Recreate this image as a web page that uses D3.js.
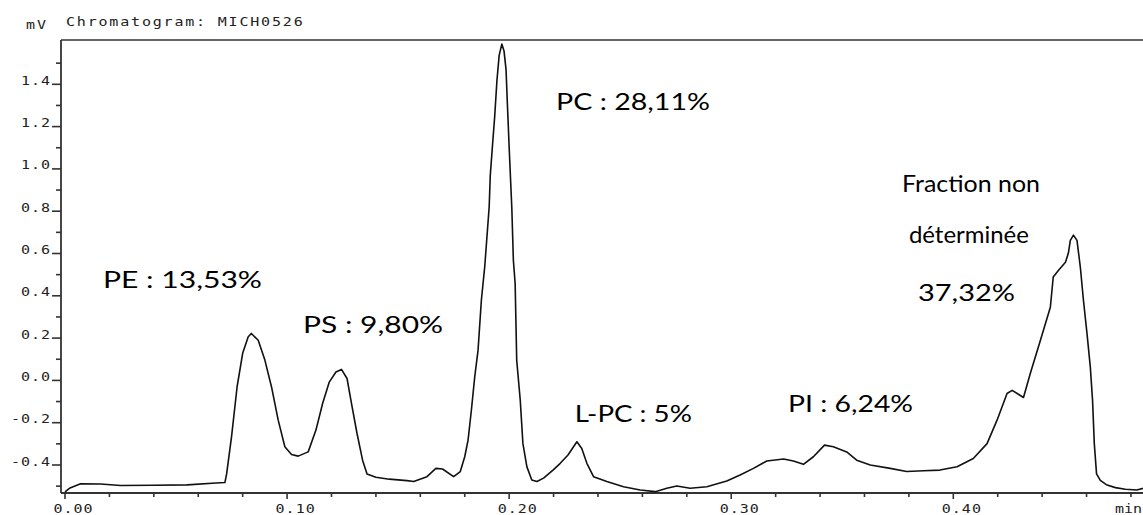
<!DOCTYPE html>
<html>
<head>
<meta charset="utf-8">
<script src="https://cdn.jsdelivr.net/npm/d3@7/dist/d3.min.js"></script>
<style>
  html, body { margin: 0; padding: 0; background: #fff; }
  svg { display: block; }
</style>
</head>
<body>
<svg id="chart" width="1143" height="515"></svg>
<script>
// ---------- DATA ----------
const chartTitle = "Chromatogram: MICH0526";
const yUnit = "mV";
const xUnit = "min";

// retention time (min)
const times = [
  0.000, 0.002, 0.007, 0.016, 0.025, 0.040, 0.055, 0.068, 0.072, 0.0728,
  0.075, 0.0775, 0.080, 0.0825, 0.0839, 0.087, 0.090, 0.093, 0.096, 0.099,
  0.102, 0.105, 0.1095, 0.113, 0.116, 0.119, 0.122, 0.1245, 0.127, 0.129,
  0.1315, 0.134, 0.136, 0.140, 0.146, 0.154, 0.157, 0.163, 0.167, 0.170,
  0.175, 0.178, 0.180, 0.1815, 0.183, 0.1845, 0.186, 0.1875, 0.189, 0.190,
  0.191, 0.1915, 0.1925, 0.1935, 0.1945, 0.1955, 0.1967, 0.1977, 0.1986, 0.1992,
  0.2001, 0.2012, 0.2019, 0.2027, 0.2034, 0.2050, 0.2062, 0.2080, 0.2102, 0.2125,
  0.2155, 0.220, 0.223, 0.2265, 0.2305, 0.2327, 0.235, 0.238, 0.244, 0.2515,
  0.259, 0.2658, 0.271, 0.2755, 0.2815, 0.289, 0.298, 0.304, 0.310, 0.316,
  0.3236, 0.328, 0.3325, 0.337, 0.342, 0.346, 0.352, 0.3565, 0.3626, 0.3716,
  0.379, 0.3866, 0.394, 0.4017, 0.409, 0.4152, 0.4197, 0.4242, 0.4265, 0.4316,
  0.4347, 0.4392, 0.4437, 0.4450, 0.4473, 0.4505, 0.4518, 0.4527, 0.4541, 0.4557,
  0.4572, 0.4586, 0.4602, 0.4617, 0.4627, 0.4635, 0.4645, 0.4662, 0.4689, 0.4730,
  0.4775, 0.4826, 0.4860
];
// detector signal (mV)
const signal = [
  -0.527, -0.510, -0.489, -0.490, -0.497, -0.496, -0.494, -0.485, -0.483, -0.441,
  -0.266, -0.030, 0.128, 0.206, 0.222, 0.190, 0.096, -0.031, -0.188, -0.314,
  -0.350, -0.358, -0.338, -0.235, -0.109, -0.008, 0.040, 0.052, 0.009, -0.109,
  -0.251, -0.377, -0.442, -0.458, -0.467, -0.474, -0.478, -0.455, -0.416, -0.419,
  -0.455, -0.431, -0.361, -0.282, -0.140, 0.017, 0.143, 0.380, 0.537, 0.678,
  0.820, 0.969, 1.111, 1.249, 1.418, 1.537, 1.590, 1.557, 1.469, 1.308,
  1.079, 0.815, 0.568, 0.458, 0.096, -0.094, -0.299, -0.409, -0.471, -0.478,
  -0.462, -0.422, -0.392, -0.353, -0.290, -0.322, -0.392, -0.455, -0.478, -0.503,
  -0.518, -0.526, -0.510, -0.499, -0.510, -0.503, -0.476, -0.447, -0.416, -0.381,
  -0.372, -0.381, -0.397, -0.361, -0.306, -0.314, -0.338, -0.377, -0.400, -0.416,
  -0.431, -0.427, -0.424, -0.408, -0.369, -0.299, -0.188, -0.062, -0.047, -0.081,
  0.034, 0.189, 0.346, 0.489, 0.520, 0.559, 0.601, 0.662, 0.687, 0.662,
  0.536, 0.379, 0.222, 0.063, -0.094, -0.300, -0.442, -0.473, -0.493, -0.507,
  -0.515, -0.518, -0.509
];

// axis ticks
const xMajorTicks = [0.00, 0.10, 0.20, 0.30, 0.40];
const xMajorLabels = ["0.00", "0.10", "0.20", "0.30", "0.40"];
const xMinorTicks = [0.02, 0.04, 0.06, 0.08, 0.12, 0.14, 0.16, 0.18, 0.22, 0.24, 0.26, 0.28,
                     0.32, 0.34, 0.36, 0.38, 0.42, 0.44, 0.46, 0.48];
const xUnitAt = 0.48;
const yMajorTicks = [-0.4, -0.2, 0.0, 0.2, 0.4, 0.6, 0.8, 1.0, 1.2, 1.4];
const yMajorLabels = ["-0.4", "-0.2", "0.0", "0.2", "0.4", "0.6", "0.8", "1.0", "1.2", "1.4"];
const yMinorTicks = [-0.5, -0.3, -0.1, 0.1, 0.3, 0.5, 0.7, 0.9, 1.1, 1.3, 1.5];

// peak annotations (text, anchor time, anchor signal)
const annoText = ["PE : 13,53%", "PS : 9,80%", "PC : 28,11%", "L-PC : 5%", "PI : 6,24%",
                  "Fraction non", "déterminée", "37,32%"];
const annoTime = [0.0171, 0.1072, 0.2211, 0.2296, 0.3256, 0.3769, 0.3800, 0.3841];
const annoSignal = [0.437, 0.226, 1.278, -0.195, -0.148, 0.891, 0.650, 0.375];

// ---------- LAYOUT ----------
const W = 1143, H = 515;
const plotLeft = 61, plotTop = 40, plotBottom = 493;
const annoWidths = [159, 140, 154, 117, 125, 138, 120, 97];

const svg = d3.select("#chart");

const x = d3.scaleLinear().domain([0, 0.40]).range([65, 953.3]);
const y = d3.scaleLinear().domain([-0.4, 1.4]).range([465, 84.3]);

const axisColor = "#333";
const monoFont = "'DejaVu Sans Mono', 'Liberation Mono', monospace";

// helper for the wide bitmap-like instrument font
function monoText(g, px, py, str, anchor, spacing) {
  return g.append("text")
    .attr("transform", `translate(${px},${py}) scale(1.25,1)`)
    .attr("text-anchor", anchor || "start")
    .attr("font-family", monoFont).attr("font-size", 12)
    .attr("letter-spacing", spacing == null ? 0.8 : spacing)
    .attr("fill", "#222")
    .text(str);
}

// frame: top, left, bottom
svg.append("line").attr("x1", plotLeft).attr("x2", W + 5).attr("y1", plotTop).attr("y2", plotTop)
  .attr("stroke", axisColor).attr("stroke-width", 1.6);
svg.append("line").attr("x1", plotLeft).attr("x2", plotLeft).attr("y1", plotTop).attr("y2", plotBottom)
  .attr("stroke", axisColor).attr("stroke-width", 1.8);
svg.append("line").attr("x1", plotLeft).attr("x2", W + 5).attr("y1", plotBottom).attr("y2", plotBottom)
  .attr("stroke", axisColor).attr("stroke-width", 1.8);

// x ticks
const gx = svg.append("g");
gx.selectAll("line.maj").data(xMajorTicks).join("line")
  .attr("x1", d => x(d)).attr("x2", d => x(d))
  .attr("y1", plotBottom).attr("y2", plotBottom + 6)
  .attr("stroke", axisColor).attr("stroke-width", 1.6);
gx.selectAll("line.min").data(xMinorTicks).join("line")
  .attr("x1", d => x(d)).attr("x2", d => x(d))
  .attr("y1", plotBottom).attr("y2", plotBottom + 4)
  .attr("stroke", axisColor).attr("stroke-width", 1.6);
xMajorTicks.forEach((d, i) => monoText(gx, x(d) - 11.5, 512.5, xMajorLabels[i]));
monoText(svg, x(xUnitAt) - 16, 512.5, xUnit, "start", 0);

// y ticks
const gy = svg.append("g");
gy.selectAll("line.maj").data(yMajorTicks).join("line")
  .attr("x1", plotLeft - 9).attr("x2", plotLeft)
  .attr("y1", d => y(d)).attr("y2", d => y(d))
  .attr("stroke", axisColor).attr("stroke-width", 1.6);
gy.selectAll("line.min").data(yMinorTicks).join("line")
  .attr("x1", plotLeft - 5).attr("x2", plotLeft)
  .attr("y1", d => y(d)).attr("y2", d => y(d))
  .attr("stroke", axisColor).attr("stroke-width", 1.6);
yMajorTicks.forEach((d, i) => monoText(gy, 51, y(d) + 0.5, yMajorLabels[i], "end"));

// header texts
monoText(svg, 26, 28.5, yUnit, "start", 1.5);
monoText(svg, 66, 26, chartTitle, "start", 1.45);

// chromatogram trace
const pts = times.map((t, i) => [t, signal[i]]);
const line = d3.line().x(d => x(d[0])).y(d => y(d[1])).curve(d3.curveLinear);
svg.append("path").datum(pts)
  .attr("d", line)
  .attr("fill", "none").attr("stroke", "#111").attr("stroke-width", 1.6)
  .attr("stroke-linejoin", "round");

// annotations
svg.append("g").selectAll("text").data(annoText).join("text")
  .attr("x", (d, i) => x(annoTime[i]))
  .attr("y", (d, i) => y(annoSignal[i]))
  .attr("font-family", "Lato, 'Open Sans', sans-serif")
  .attr("font-size", 24)
  .attr("fill", "#000")
  .attr("textLength", (d, i) => annoWidths[i])
  .attr("lengthAdjust", "spacingAndGlyphs")
  .text(d => d);
</script>
</body>
</html>
